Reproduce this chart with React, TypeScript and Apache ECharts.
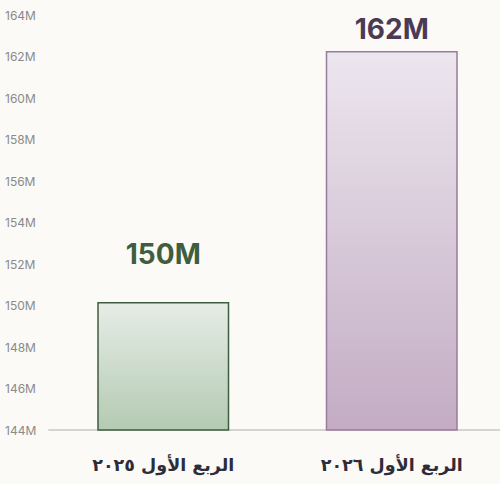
import React, { useEffect, useRef } from "react";
import * as echarts from "echarts";

const categories = ["الربع الأول ٢٠٢٥", "الربع الأول ٢٠٢٦"];
const values = [150.17e6, 162.27e6];
const valueLabels = ["150M", "162M"];
const yMin = 144e6;
const yMax = 164e6;
const yStep = 2e6;

const barColors = [
  { top: "#e6ede6", bottom: "#b4cab2", border: "#3f5e3f", text: "#3f5e3f", dist: 34 },
  { top: "#ece6ee", bottom: "#c3acc4", border: "#9a7b9b", text: "#4a3a55", dist: 8 },
];

export default function App() {
  const ref = useRef<HTMLDivElement>(null);
  useEffect(() => {
    document.body.style.overflow = "hidden";
    if (!ref.current) return;
    const chart = echarts.init(ref.current, undefined, { renderer: "svg" });
    chart.setOption({
      animation: false,
      backgroundColor: "#fbfaf6",
      grid: { left: 49, right: 0, top: 15, bottom: 54 },
      xAxis: {
        type: "category",
        data: categories,
        axisLine: { show: true, lineStyle: { color: "#d4d4d4", width: 2 } },
        axisTick: { show: false },
        axisLabel: {
          margin: 26,
          fontSize: 17.5,
          fontWeight: "bold",
          color: "#2d2d3a",
          fontFamily: "DejaVu Sans",
        },
      },
      yAxis: {
        type: "value",
        min: yMin,
        max: yMax,
        interval: yStep,
        splitLine: { show: false },
        axisLine: { show: false },
        axisTick: { show: false },
        axisLabel: {
          fontSize: 12,
          color: "#8a8a8a",
          align: "left",
          margin: 44,
          fontFamily: "Inter",
          formatter: (v: number) => Math.round(v / 1e6) + "M",
        },
      },
      series: [
        {
          type: "bar",
          barWidth: 132,
          data: values.map((v, i) => ({
            value: v,
            itemStyle: {
              color: new echarts.graphic.LinearGradient(0, 0, 0, 1, [
                { offset: 0, color: barColors[i].top },
                { offset: 1, color: barColors[i].bottom },
              ]),
              borderColor: barColors[i].border,
              borderWidth: 1.5,
            },
            label: {
              show: true,
              position: "top",
              distance: barColors[i].dist,
              formatter: valueLabels[i],
              fontSize: 28,
              fontWeight: "bold",
              fontFamily: "Inter",
              color: barColors[i].text,
            },
          })),
        },
      ],
    });
    return () => chart.dispose();
  }, []);
  return <div ref={ref} style={{ width: 506, height: 484, position: "fixed", left: 0, top: 0 }} />;
}
